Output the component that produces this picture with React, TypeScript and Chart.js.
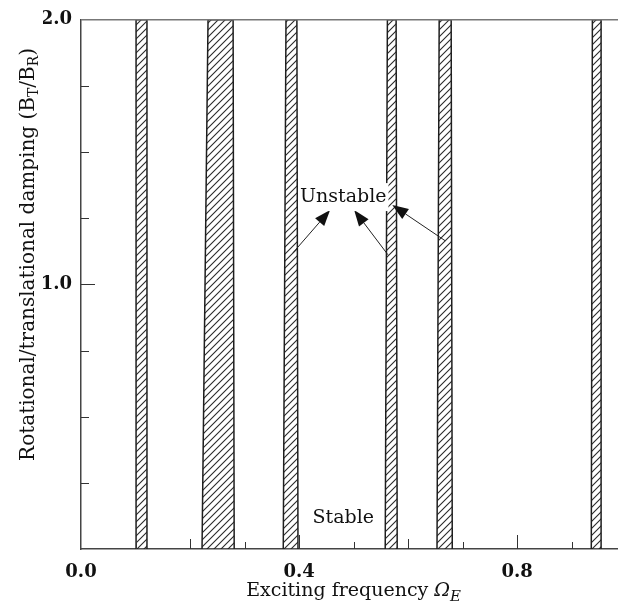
import React, { useEffect, useRef } from 'react';
import { Chart, registerables } from 'chart.js';

Chart.register(...registerables);

// Unstable regions (hatched strips): edges at the bottom (y = 0) and at the top (y = 2)
const bandLeftBottom = [0.101, 0.222, 0.371, 0.558, 0.653, 0.936];
const bandLeftTop = [0.101, 0.233, 0.376, 0.562, 0.657, 0.938];
const bandRightTop = [0.121, 0.279, 0.396, 0.578, 0.679, 0.954];
const bandRightBottom = [0.121, 0.281, 0.398, 0.580, 0.681, 0.954];
const yBottom = 0;
const yTop = 2;

const xMin = 0;
const xMax = 0.985;

const xTickValues = [0, 0.1, 0.2, 0.3, 0.4, 0.5, 0.6, 0.7, 0.8, 0.9];
const xTickLabels = ['0.0', '', '', '', '0.4', '', '', '', '0.8', ''];
const xMajorTicks = [0.4, 0.8];
const xMediumTicks = [0.2, 0.6];

const yTickValues = [0, 0.25, 0.5, 0.75, 1.0, 1.25, 1.5, 1.75, 2.0];
const yTickLabels = ['', '', '', '', '1.0', '', '', '', '2.0'];
const yMajorTicks = [1.0];

const regionLabels = ['Unstable', 'Stable'];
const regionLabelX = [0.481, 0.481];
const regionLabelY = [1.33, 0.116];
const regionLabelBoxed = [true, false];

const arrowFromX = [0.389, 0.563, 0.668];
const arrowFromY = [1.12, 1.112, 1.165];
const arrowToX = [0.457, 0.501, 0.571];
const arrowToY = [1.281, 1.281, 1.3];

const xTitleMain = 'Exciting frequency ';
const xTitleSymbol = 'Ω';
const xTitleSub = 'E';
const yTitleParts = [
  { text: 'Rotational/translational damping (B', sub: false },
  { text: 'T', sub: true },
  { text: '/B', sub: false },
  { text: 'R', sub: true },
  { text: ')', sub: false },
];

const SERIF = "'DejaVu Serif', 'Liberation Serif', serif";

function makeHatch(): CanvasPattern | string {
  const s = 7;
  const c = document.createElement('canvas');
  c.width = s;
  c.height = s;
  const g = c.getContext('2d');
  if (!g) return '#fff';
  g.fillStyle = '#ffffff';
  g.fillRect(0, 0, s, s);
  g.strokeStyle = '#2a2a2a';
  g.lineWidth = 1.1;
  g.beginPath();
  g.moveTo(-1, s + 1);
  g.lineTo(s + 1, -1);
  g.moveTo(-1, 1);
  g.lineTo(1, -1);
  g.moveTo(s - 1, s + 1);
  g.lineTo(s + 1, s - 1);
  g.stroke();
  const p = g.createPattern(c, 'repeat');
  return p || '#fff';
}

function drawArrow(ctx: CanvasRenderingContext2D, x1: number, y1: number, x2: number, y2: number) {
  const ang = Math.atan2(y2 - y1, x2 - x1);
  const L = 16;
  const W = 6;
  const bx = x2 - L * Math.cos(ang);
  const by = y2 - L * Math.sin(ang);
  ctx.beginPath();
  ctx.moveTo(x1, y1);
  ctx.lineTo(bx, by);
  ctx.strokeStyle = '#222';
  ctx.lineWidth = 1;
  ctx.stroke();
  ctx.beginPath();
  ctx.moveTo(x2, y2);
  ctx.lineTo(bx + W * Math.sin(ang), by - W * Math.cos(ang));
  ctx.lineTo(bx - W * Math.sin(ang), by + W * Math.cos(ang));
  ctx.closePath();
  ctx.fillStyle = '#111';
  ctx.fill();
}

const decorPlugin = {
  id: 'decor',
  afterDatasetsDraw(chart: any) {
    const ctx: CanvasRenderingContext2D = chart.ctx;
    const xs = chart.scales.x;
    const ys = chart.scales.y;
    const area = chart.chartArea;
    ctx.save();

    // top frame line
    ctx.beginPath();
    ctx.moveTo(area.left, area.top);
    ctx.lineTo(area.right, area.top);
    ctx.strokeStyle = '#777';
    ctx.lineWidth = 1.5;
    ctx.stroke();

    // inward tick marks
    ctx.strokeStyle = '#333';
    ctx.lineWidth = 1;
    xTickValues.forEach((v) => {
      if (v === xMin) return;
      const px = Math.round(xs.getPixelForValue(v)) + 0.5;
      const len = xMajorTicks.includes(v) ? 14 : xMediumTicks.includes(v) ? 10 : 7;
      ctx.beginPath();
      ctx.moveTo(px, area.bottom);
      ctx.lineTo(px, area.bottom - len);
      ctx.stroke();
    });
    yTickValues.forEach((v) => {
      if (v === yBottom || v === yTop) return;
      const py = Math.round(ys.getPixelForValue(v)) + 0.5;
      const len = yMajorTicks.includes(v) ? 14 : 8;
      ctx.beginPath();
      ctx.moveTo(area.left, py);
      ctx.lineTo(area.left + len, py);
      ctx.stroke();
    });

    // arrows
    arrowFromX.forEach((_, i) => {
      drawArrow(
        ctx,
        xs.getPixelForValue(arrowFromX[i]),
        ys.getPixelForValue(arrowFromY[i]),
        xs.getPixelForValue(arrowToX[i]),
        ys.getPixelForValue(arrowToY[i])
      );
    });

    // region labels
    ctx.font = `19px ${SERIF}`;
    ctx.textAlign = 'center';
    ctx.textBaseline = 'middle';
    regionLabels.forEach((t, i) => {
      const px = xs.getPixelForValue(regionLabelX[i]);
      const py = ys.getPixelForValue(regionLabelY[i]);
      if (regionLabelBoxed[i]) {
        const w = ctx.measureText(t).width;
        ctx.fillStyle = '#fff';
        ctx.fillRect(px - w / 2 - 2, py - 14, w + 4, 28);
      }
      ctx.fillStyle = '#111';
      ctx.fillText(t, px, py);
    });

    // x title
    const mainFont = `19px ${SERIF}`;
    const italFont = `italic 19px ${SERIF}`;
    const subFont = `italic 15px ${SERIF}`;
    ctx.textAlign = 'left';
    ctx.textBaseline = 'alphabetic';
    ctx.font = mainFont;
    const w1 = ctx.measureText(xTitleMain).width;
    ctx.font = italFont;
    const w2 = ctx.measureText(xTitleSymbol).width;
    ctx.font = subFont;
    const w3 = ctx.measureText(xTitleSub).width;
    const total = w1 + w2 + w3;
    const cx = (area.left + xs.getPixelForValue(1.0)) / 2;
    let x0 = cx - total / 2;
    const base = 596;
    ctx.fillStyle = '#111';
    ctx.font = mainFont;
    ctx.fillText(xTitleMain, x0, base);
    x0 += w1;
    ctx.font = italFont;
    ctx.fillText(xTitleSymbol, x0, base);
    x0 += w2;
    ctx.font = subFont;
    ctx.fillText(xTitleSub, x0, base + 5);

    // y title (rotated)
    const yMain = `20px ${SERIF}`;
    const ySub = `14px ${SERIF}`;
    let tw = 0;
    const widths = yTitleParts.map((p) => {
      ctx.font = p.sub ? ySub : yMain;
      const w = ctx.measureText(p.text).width;
      tw += w;
      return w;
    });
    ctx.translate(34, (area.top + area.bottom) / 2 - 30);
    ctx.rotate(-Math.PI / 2);
    let tx = -tw / 2;
    yTitleParts.forEach((p, i) => {
      ctx.font = p.sub ? ySub : yMain;
      ctx.fillText(p.text, tx, p.sub ? 4 : 0);
      tx += widths[i];
    });

    ctx.restore();
  },
};

export default function App() {
  const ref = useRef<HTMLCanvasElement | null>(null);

  useEffect(() => {
    if (!ref.current) return;
    const hatch = makeHatch();
    const datasets = bandLeftBottom.map((_, i) => ({
      label: `Unstable ${i + 1}`,
      data: [
        { x: bandLeftBottom[i], y: yBottom },
        { x: bandLeftTop[i], y: yTop },
        { x: bandRightTop[i], y: yTop },
        { x: bandRightBottom[i], y: yBottom },
        { x: bandLeftBottom[i], y: yBottom },
      ],
      showLine: true,
      fill: 'shape',
      backgroundColor: hatch,
      borderColor: '#1e1e1e',
      borderWidth: 1.5,
      pointRadius: 0,
      tension: 0,
    }));

    const tickFont = { family: SERIF, size: 18, weight: 'bold' as const };

    const chart = new Chart(ref.current, {
      type: 'scatter',
      data: { datasets: datasets as any },
      options: {
        animation: false,
        responsive: false,
        devicePixelRatio: 1,
        layout: { padding: { left: 43, top: 15, right: 0, bottom: 0 } },
        plugins: {
          legend: { display: false },
          tooltip: { enabled: false },
        },
        scales: {
          x: {
            type: 'linear',
            min: xMin,
            max: xMax,
            afterBuildTicks: (s: any) => {
              s.ticks = xTickValues.map((v) => ({ value: v }));
            },
            afterFit: (s: any) => {
              s.height = 66;
            },
            grid: { display: false, drawTicks: false },
            border: { display: true, color: '#444', width: 1.5 },
            ticks: {
              autoSkip: false,
              maxRotation: 0,
              padding: 13,
              color: '#111',
              font: tickFont,
              callback: (v: any) => {
                const i = xTickValues.findIndex((t) => Math.abs(t - Number(v)) < 1e-9);
                return i >= 0 ? xTickLabels[i] : '';
              },
            },
          },
          y: {
            type: 'linear',
            min: yBottom,
            max: yTop,
            afterBuildTicks: (s: any) => {
              s.ticks = yTickValues.map((v) => ({ value: v }));
            },
            afterFit: (s: any) => {
              s.width = 38;
            },
            grid: { display: false, drawTicks: false },
            border: { display: true, color: '#444', width: 1.5 },
            ticks: {
              autoSkip: false,
              padding: 9,
              color: '#111',
              font: tickFont,
              callback: (v: any) => {
                const i = yTickValues.findIndex((t) => Math.abs(t - Number(v)) < 1e-9);
                return i >= 0 ? yTickLabels[i] : '';
              },
            },
          },
        },
      },
      plugins: [decorPlugin],
    });
    return () => chart.destroy();
  }, []);

  return (
    <div style={{ position: 'fixed', left: 0, top: 0, width: 618, height: 615, background: '#fff' }}>
      <canvas ref={ref} width={618} height={615} style={{ display: 'block', width: 618, height: 615 }} />
    </div>
  );
}
